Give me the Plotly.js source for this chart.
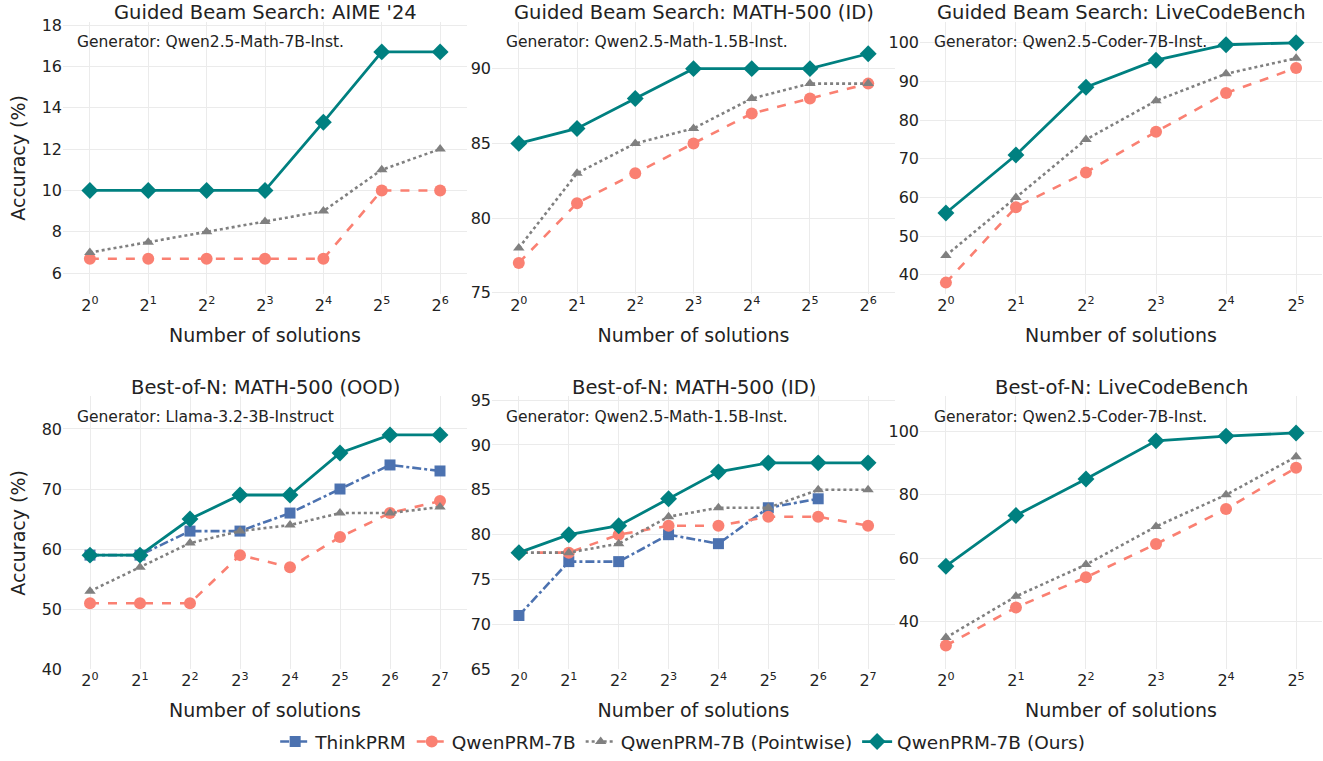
<!DOCTYPE html>
<html>
<head>
<meta charset="utf-8">
<script src="https://cdn.plot.ly/plotly-3.0.1.min.js"></script>
<style>html,body{margin:0;padding:0;background:#fff;}#chart{width:1323px;height:761px;}</style>
</head>
<body>
<div id="chart"></div>
<script>
// ---------- data ----------
const panelTitles = [
  "Guided Beam Search: AIME '24",
  "Guided Beam Search: MATH-500 (ID)",
  "Guided Beam Search: LiveCodeBench",
  "Best-of-N: MATH-500 (OOD)",
  "Best-of-N: MATH-500 (ID)",
  "Best-of-N: LiveCodeBench"
];
const generators = [
  "Generator: Qwen2.5-Math-7B-Inst.",
  "Generator: Qwen2.5-Math-1.5B-Inst.",
  "Generator: Qwen2.5-Coder-7B-Inst.",
  "Generator: Llama-3.2-3B-Instruct",
  "Generator: Qwen2.5-Math-1.5B-Inst.",
  "Generator: Qwen2.5-Coder-7B-Inst."
];
const exponents6 = [0, 1, 2, 3, 4, 5, 6];
const exponents5 = [0, 1, 2, 3, 4, 5];
const exponents7 = [0, 1, 2, 3, 4, 5, 6, 7];
const seriesNames = ["ThinkPRM", "QwenPRM-7B", "QwenPRM-7B (Pointwise)", "QwenPRM-7B (Ours)"];

// Panel 1: Guided Beam Search AIME '24
const p1_qwen = [6.7, 6.7, 6.7, 6.7, 6.7, 10, 10];
const p1_point = [7, 7.5, 8, 8.5, 9, 11, 12];
const p1_ours = [10, 10, 10, 10, 13.3, 16.7, 16.7];
// Panel 2: Guided Beam Search MATH-500 (ID)
const p2_qwen = [77, 81, 83, 85, 87, 88, 89];
const p2_point = [78, 83, 85, 86, 88, 89, 89];
const p2_ours = [85, 86, 88, 90, 90, 90, 91];
// Panel 3: Guided Beam Search LiveCodeBench
const p3_qwen = [38, 57.5, 66.5, 77, 87, 93.5];
const p3_point = [45, 60, 75, 85, 92, 96];
const p3_ours = [56, 71, 88.5, 95.5, 99.5, 100];
// Panel 4: Best-of-N MATH-500 (OOD)
const p4_think = [59, 59, 63, 63, 66, 70, 74, 73];
const p4_qwen = [51, 51, 51, 59, 57, 62, 66, 68];
const p4_point = [53, 57, 61, 63, 64, 66, 66, 67];
const p4_ours = [59, 59, 65, 69, 69, 76, 79, 79];
// Panel 5: Best-of-N MATH-500 (ID)
const p5_think = [71, 77, 77, 80, 79, 83, 84];
const p5_qwen = [78, 78, 80, 81, 81, 82, 82, 81];
const p5_point = [78, 78, 79, 82, 83, 83, 85, 85];
const p5_ours = [78, 80, 81, 84, 87, 88, 88, 88];
// Panel 6: Best-of-N LiveCodeBench
const p6_qwen = [32.5, 44.5, 54, 64.5, 75.5, 88.5];
const p6_point = [35, 48, 58, 70, 80, 92];
const p6_ours = [57.5, 73.5, 85, 97, 98.5, 99.5];

const yTickVals = [
  [6, 8, 10, 12, 14, 16, 18],
  [75, 80, 85, 90],
  [40, 50, 60, 70, 80, 90, 100],
  [40, 50, 60, 70, 80],
  [65, 70, 75, 80, 85, 90, 95],
  [40, 60, 80, 100]
];

// ---------- styles ----------
const styles = {
  "ThinkPRM": {color: "#4C72B0", dash: "dashdot", symbol: "square", size: 11, width: 2.6},
  "QwenPRM-7B": {color: "#FA8072", dash: "dash", symbol: "circle", size: 12, width: 2.6},
  "QwenPRM-7B (Pointwise)": {color: "#808080", dash: "dot", symbol: "triangle-up", size: 10, width: 2.6},
  "QwenPRM-7B (Ours)": {color: "#008080", dash: "solid", symbol: "diamond", size: 13, width: 2.8}
};

const panels = [
  {x: exponents6, series: {"QwenPRM-7B": p1_qwen, "QwenPRM-7B (Pointwise)": p1_point, "QwenPRM-7B (Ours)": p1_ours}, yr: [5, 18.15]},
  {x: exponents6, series: {"QwenPRM-7B": p2_qwen, "QwenPRM-7B (Pointwise)": p2_point, "QwenPRM-7B (Ours)": p2_ours}, yr: [74.93, 93.13]},
  {x: exponents5, series: {"QwenPRM-7B": p3_qwen, "QwenPRM-7B (Pointwise)": p3_point, "QwenPRM-7B (Ours)": p3_ours}, yr: [35.1, 105.4]},
  {x: exponents7, series: {"ThinkPRM": p4_think, "QwenPRM-7B": p4_qwen, "QwenPRM-7B (Pointwise)": p4_point, "QwenPRM-7B (Ours)": p4_ours}, yr: [40, 85.4]},
  {x: exponents7, series: {"ThinkPRM": p5_think, "QwenPRM-7B": p5_qwen, "QwenPRM-7B (Pointwise)": p5_point, "QwenPRM-7B (Ours)": p5_ours}, yr: [65, 95.4]},
  {x: exponents5, series: {"QwenPRM-7B": p6_qwen, "QwenPRM-7B (Pointwise)": p6_point, "QwenPRM-7B (Ours)": p6_ours}, yr: [25, 111]}
];

const W = 1323, H = 761;
const colPx = [[63, 467], [492, 895], [920, 1322]];
const rowPx = [[22, 295], [398, 672]];
const FONT = "DejaVu Sans, Verdana, sans-serif";
const TXT = "#222";

const traces = [];
const layout = {
  width: W, height: H,
  margin: {l: 0, r: 0, t: 0, b: 0},
  paper_bgcolor: "#fff", plot_bgcolor: "#fff",
  font: {family: FONT, color: TXT, size: 16},
  showlegend: true,
  legend: {orientation: "h", x: 0.516, xanchor: "center", y: 1 - 745 / H, yanchor: "middle",
           font: {size: 18.5, family: FONT, color: TXT}, itemwidth: 30, tracegroupgap: 0},
  annotations: []
};

const legendShown = {};
panels.forEach((p, i) => {
  const r = Math.floor(i / 3), c = i % 3;
  const ax = i === 0 ? "" : String(i + 1);
  const n = p.x.length;
  const xpad = (p.x.length === 8) ? 0.54 : (p.x.length === 7 ? 0.46 : 0.37);
  layout["xaxis" + ax] = {
    domain: [colPx[c][0] / W, colPx[c][1] / W],
    anchor: "y" + ax,
    range: [-xpad, n - 1 + xpad],
    tickmode: "array",
    tickvals: p.x,
    ticktext: p.x.map(e => "2<sup>" + e + "</sup>"),
    showgrid: true, gridcolor: "#ebebeb", gridwidth: 1,
    zeroline: false, showline: false, ticks: "",
    tickfont: {size: 16, family: FONT, color: TXT},
    title: {text: "Number of solutions", font: {size: 19, family: FONT, color: TXT}, standoff: 14}
  };
  layout["yaxis" + ax] = {
    domain: [1 - rowPx[r][1] / H, 1 - rowPx[r][0] / H],
    anchor: "x" + ax,
    range: p.yr,
    tickmode: "array",
    tickvals: yTickVals[i],
    showgrid: true, gridcolor: "#ebebeb", gridwidth: 1,
    zeroline: false, showline: false, ticks: "",
    tickfont: {size: 16, family: FONT, color: TXT},
    title: c === 0 ? {text: "Accuracy (%)", font: {size: 19, family: FONT, color: TXT}, standoff: 10} : {text: ""}
  };
  layout.annotations.push({
    text: panelTitles[i], xref: "x" + ax + " domain", yref: "paper",
    x: 0.5, xanchor: "center", y: 1 - (r === 0 ? 13 : 389) / H, yanchor: "middle",
    showarrow: false, font: {size: 19.5, family: FONT, color: TXT}
  });
  layout.annotations.push({
    text: generators[i], xref: "x" + ax + " domain", yref: "y" + ax + " domain",
    x: 12 / 404, xanchor: "left", y: r === 0 ? 0.927 : 0.923, yanchor: "middle",
    showarrow: false, font: {size: 15.5, family: FONT, color: TXT}
  });
  seriesNames.forEach(name => {
    const vals = p.series[name];
    if (!vals) return;
    const s = styles[name];
    traces.push({
      type: "scatter", mode: "lines+markers",
      x: p.x.slice(0, vals.length), y: vals,
      xaxis: "x" + ax, yaxis: "y" + ax,
      name: name, legendgroup: name,
      showlegend: !legendShown[name] && i === 3,
      line: {color: s.color, dash: s.dash, width: s.width},
      marker: {color: s.color, symbol: s.symbol, size: s.size},
      cliponaxis: false
    });
    if (i === 3) legendShown[name] = true;
  });
});

Plotly.newPlot("chart", traces, layout, {displayModeBar: false, staticPlot: true});
</script>
</body>
</html>
